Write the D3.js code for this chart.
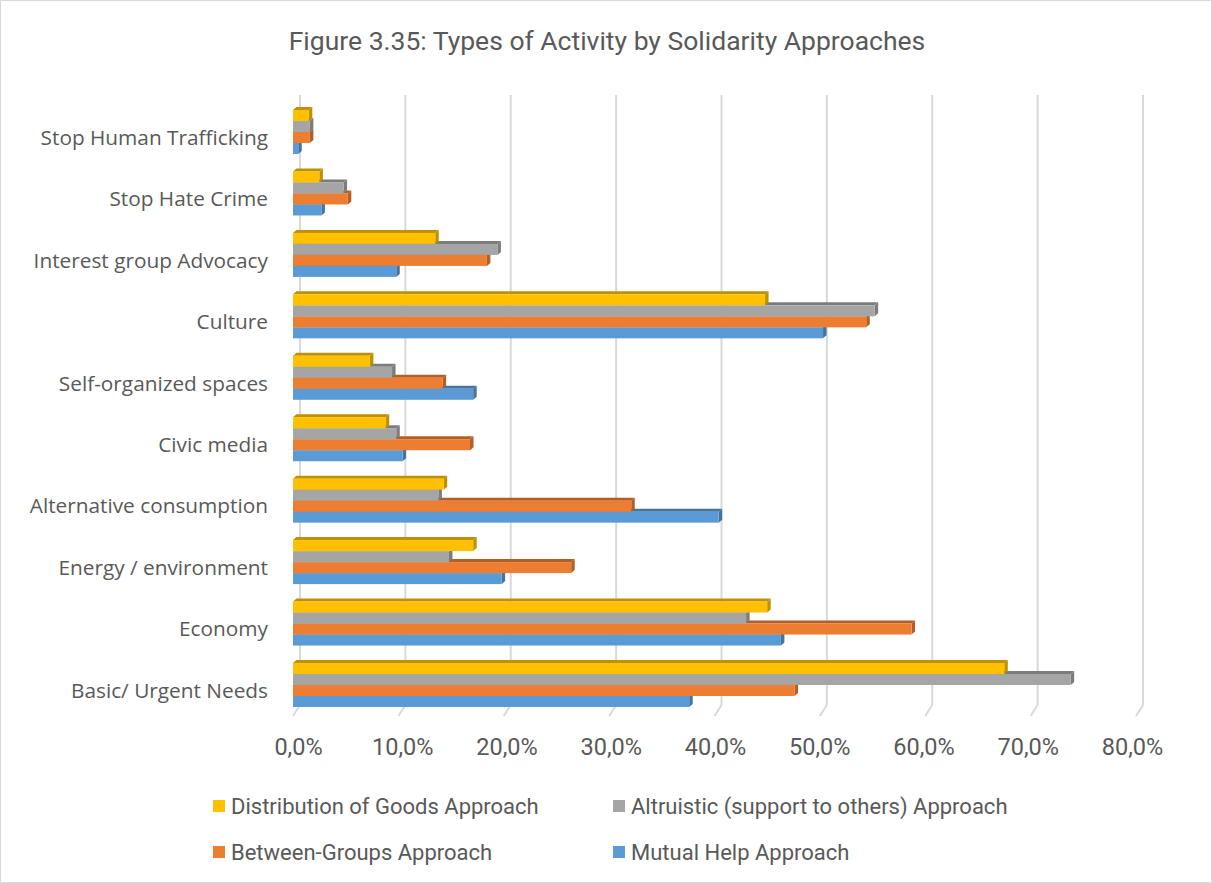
<!DOCTYPE html>
<html>
<head>
<meta charset="utf-8">
<script src="https://cdnjs.cloudflare.com/ajax/libs/d3/7.8.5/d3.min.js"></script>
<style>
  body { margin: 0; background: #fff; }
  text { fill: #595959; }
</style>
</head>
<body>
<div id="chart"></div>
<script>
// categories, top to bottom
var categories = ["Stop Human Trafficking", "Stop Hate Crime", "Interest group Advocacy", "Culture",
    "Self-organized spaces", "Civic media", "Alternative consumption", "Energy / environment",
    "Economy", "Basic/ Urgent Needs"];

var seriesNames = ["Distribution of Goods Approach", "Altruistic (support to others) Approach",
    "Between-Groups Approach", "Mutual Help Approach"];

// values in %, same order as categories
var distribution = [1.5, 2.5, 13.5, 44.8, 7.3, 8.8, 14.3, 17.1, 45.0, 67.5];
var altruistic   = [1.6, 4.8, 19.4, 55.2, 9.4, 9.8, 13.8, 14.8, 43.0, 73.8];
var betweenGroups = [1.6, 5.2, 18.4, 54.4, 14.2, 16.8, 32.1, 26.4, 58.7, 47.6];
var mutualHelp   = [0.5, 2.7, 9.8, 50.3, 17.1, 10.4, 40.4, 19.8, 46.3, 37.6];

var tickValues = [0, 10, 20, 30, 40, 50, 60, 70, 80];

var seriesValues = [distribution, altruistic, betweenGroups, mutualHelp];
var fillColours = ["#FFC000", "#A5A5A5", "#ED7D31", "#5B9BD5"];
var darkColours = ["#BF9000", "#7C7C7C", "#B25E25", "#44749F"];

var W = 1212, H = 883;

var svg = d3.select("#chart").append("svg")
    .attr("width", W)
    .attr("height", H);

svg.append("rect")
    .attr("x", 0.5).attr("y", 0.5)
    .attr("width", W - 1).attr("height", H - 1)
    .attr("fill", "#fff")
    .attr("stroke", "#d9d9d9");

svg.append("text")
    .attr("x", 607)
    .attr("y", 50)
    .attr("text-anchor", "middle")
    .attr("font-family", "Roboto, sans-serif")
    .attr("font-size", "26.5px")
    .text("Figure 3.35: Types of Activity by Solidarity Approaches");

// front face scale
var x = d3.scaleLinear().domain([0, 80]).range([293, 1136]);
var backDx = 7; // back wall offset
var depth = {dx: 3.5, dy: 3};

var y = d3.scaleBand()
    .domain(categories)
    .range([101.3, 715.7]);

var groupH = 44;
var ySeries = d3.scaleBand()
    .domain(d3.range(seriesNames.length))
    .range([0, groupH]);

// back wall grid lines + floor
var grid = svg.append("g");
grid.selectAll("line.wall")
    .data(tickValues)
    .enter().append("line")
    .attr("class", "wall")
    .attr("x1", function(d) { return x(d) + backDx; })
    .attr("x2", function(d) { return x(d) + backDx; })
    .attr("y1", 95)
    .attr("y2", 705)
    .attr("stroke", "#d9d9d9")
    .attr("stroke-width", 2);

grid.selectAll("line.floor")
    .data(tickValues)
    .enter().append("line")
    .attr("class", "floor")
    .attr("x1", function(d) { return x(d) + backDx; })
    .attr("x2", function(d) { return x(d); })
    .attr("y1", 705)
    .attr("y2", 716)
    .attr("stroke", "#d9d9d9")
    .attr("stroke-width", 2);

// bars
var bars = svg.append("g");
categories.forEach(function(cat, ci) {
    var g0 = y(cat) + (y.bandwidth() - groupH) / 2;
    // draw bottom series first so upper fronts cover lower tops
    for (var si = seriesNames.length - 1; si >= 0; si--) {
        var v = seriesValues[si][ci];
        var x0 = x(0), x1 = x(v);
        var y0 = g0 + ySeries(si), y1 = y0 + ySeries.bandwidth();
        var dx = depth.dx, dy = depth.dy;
        // top face
        bars.append("path")
            .attr("d", "M" + x0 + "," + y0 + "L" + (x0 + dx) + "," + (y0 - dy) +
                "L" + (x1 + dx) + "," + (y0 - dy) + "L" + x1 + "," + y0 + "Z")
            .attr("fill", darkColours[si]);
        // side face
        bars.append("path")
            .attr("d", "M" + x1 + "," + y0 + "L" + (x1 + dx) + "," + (y0 - dy) +
                "L" + (x1 + dx) + "," + (y1 - dy) + "L" + x1 + "," + y1 + "Z")
            .attr("fill", darkColours[si]);
        // front face
        bars.append("rect")
            .attr("x", x0)
            .attr("y", y0)
            .attr("width", x1 - x0)
            .attr("height", y1 - y0)
            .attr("fill", fillColours[si]);
    }
});

// category labels
svg.append("g").selectAll("text")
    .data(categories)
    .enter().append("text")
    .attr("x", 268)
    .attr("y", function(d) { return y(d) + y.bandwidth() / 2 + 5.5; })
    .attr("dy", "0.35em")
    .attr("text-anchor", "end")
    .attr("font-family", "'Open Sans', sans-serif")
    .attr("font-size", "20.8px")
    .text(function(d) { return d; });

// x axis labels
var locale = d3.formatLocale({decimal: ",", thousands: ".", grouping: [3], currency: ["", "€"]});
var fmt = locale.format(".1f");
var xLabel = d3.scaleLinear().domain([0, 80]).range([298, 1132]);
var xAxis = d3.axisBottom(xLabel)
    .tickValues(tickValues)
    .tickSize(0)
    .tickFormat(function(d) { return fmt(d) + "%"; });

var axisG = svg.append("g")
    .attr("transform", "translate(0,735)")
    .call(xAxis);
axisG.select(".domain").remove();
axisG.selectAll("text")
    .attr("font-family", "Roboto, sans-serif")
    .attr("font-size", "23.5px")
    .style("fill", "#595959");

// legend
var legendPos = [[213, 806], [613, 806], [213, 852], [613, 852]];
var legend = svg.append("g").selectAll("g")
    .data(seriesNames)
    .enter().append("g")
    .attr("transform", function(d, i) { return "translate(" + legendPos[i] + ")"; });

legend.append("rect")
    .attr("x", 0).attr("y", -6)
    .attr("width", 12).attr("height", 12)
    .attr("fill", function(d, i) { return fillColours[i]; });

legend.append("text")
    .attr("x", 18)
    .attr("dy", "0.35em")
    .attr("font-family", "Roboto, sans-serif")
    .attr("font-size", "22px")
    .text(function(d) { return d; });
</script>
</body>
</html>
